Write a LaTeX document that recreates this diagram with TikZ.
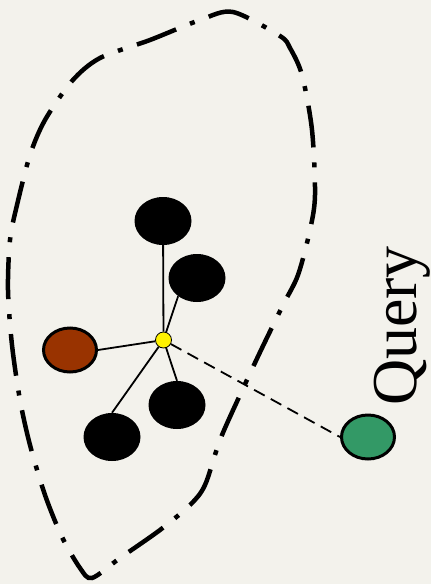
\documentclass[tikz,border=0pt]{standalone}
\usepackage{fontspec}
\setmainfont{Liberation Serif}
\definecolor{bg}{HTML}{F3F2EC}
\definecolor{brownfill}{HTML}{993300}
\definecolor{greenfill}{HTML}{339966}
\tikzset{
  blackpt/.style={ellipse, fill=black, minimum width=57pt, minimum height=48pt, inner sep=0pt},
  colpt/.style={ellipse, draw=black, line width=3pt, minimum width=53pt, minimum height=44pt, inner sep=0pt},
  centerpt/.style={circle, draw=black, line width=0.8pt, fill=yellow, minimum size=16pt, inner sep=0pt},
  edge/.style={line width=1.8pt},
  queryedge/.style={line width=1.8pt, dash pattern=on 12pt off 7pt},
  region/.style={line width=4.5pt, dash pattern=on 42pt off 15pt on 5pt off 15pt},
  label/.style={font=\fontsize{64}{64}\selectfont, rotate=90, inner sep=0pt}
}
\usetikzlibrary{shapes.geometric}
\begin{document}
\begin{tikzpicture}[x=1pt,y=-1pt]
\fill[bg] (0,0) rectangle (431,584);
\useasboundingbox (0,0) rectangle (431,584);
\draw[region] plot[smooth cycle, tension=0.5] coordinates {
(233,12) (280,36) (290,48) (302,75) (312,130) (315,195) (310,230) (298,275) (283,305)
(262,348) (240,395) (220,440) (205,485) (190,505) (160,530) (120,558) (92,578)
(80,568) (62,537) (45,495) (30,445) (20,400) (12,345) (8,290) (10,240)
(17,205) (30,155) (45,120) (72,81) (100,58) (150,40) (200,20)};
\node[blackpt] (n1) at (163,221) {};
\node[blackpt] (n2) at (197,278) {};
\node[blackpt] (n3) at (177,405) {};
\node[blackpt] (n4) at (112,437) {};
\node[colpt, fill=brownfill] (nb) at (70,350) {};
\node[colpt, fill=greenfill] (q) at (368,437) {};
\node[centerpt] (c) at (163.5,340) {};
\draw[edge] (c) -- (n1);
\draw[edge] (c) -- (n2.224);
\draw[edge] (c) -- (n3.north);
\draw[edge] (c) -- (n4.north);
\draw[edge] (c) -- (nb.east);
\draw[queryedge] (c) -- (q.west);
\node[label] (t) at (402,326) {Query};
\end{tikzpicture}
\end{document}
